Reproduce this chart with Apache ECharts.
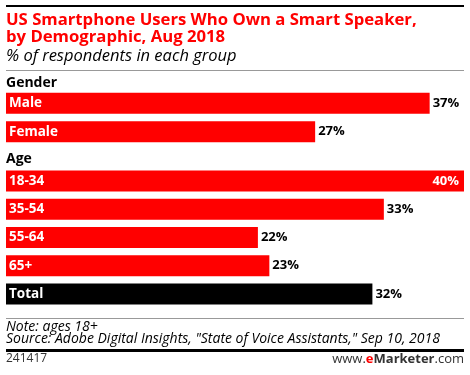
<!DOCTYPE html>
<html><head><meta charset="utf-8">
<script src="https://cdn.jsdelivr.net/npm/echarts@6/dist/echarts.min.js"></script>
<style>html,body{margin:0;padding:0;background:#fff}#c{width:470px;height:375px}</style>
</head><body><div id="c"></div>
<script>
const genderCats = ['Male', 'Female'];
const genderVals = [37, 27];
const ageCats = ['18-34', '35-54', '55-64', '65+', 'Total'];
const ageVals = [40, 33, 22, 23, 32];
const groupTitles = ['Gender', 'Age'];

const FONT = '"Open Sans", sans-serif';
const RED = '#ff0000';
const xMax = 40;

function itemFor(v, isTotal) {
  return {
    value: v,
    itemStyle: { color: isTotal ? '#000' : RED },
    label: v >= xMax ? { position: 'insideRight', color: '#fff', offset: [-2, 0] } : { position: 'right', color: '#000' }
  };
}

const chart = echarts.init(document.getElementById('c'), null, { renderer: 'canvas' });
const commonYAxis = {
  type: 'category', inverse: true, z: 10,
  axisLine: { show: false }, axisTick: { show: false }, splitLine: { show: false },
  axisLabel: { inside: true, margin: 3, color: '#fff', fontWeight: 'bold', fontSize: 13.5, fontFamily: FONT }
};
const commonXAxis = { type: 'value', min: 0, max: xMax, show: false };
const commonLabel = { show: true, fontWeight: 'bold', fontSize: 13, fontFamily: FONT, formatter: '{c}%', distance: 3 };

chart.setOption({
  animation: false,
  grid: [
    { left: 6, right: 6, top: 89, height: 57 },
    { left: 6, right: 6, top: 167, height: 141 }
  ],
  xAxis: [Object.assign({ gridIndex: 0 }, commonXAxis), Object.assign({ gridIndex: 1 }, commonXAxis)],
  yAxis: [
    Object.assign({ gridIndex: 0, data: genderCats }, commonYAxis),
    Object.assign({ gridIndex: 1, data: ageCats }, commonYAxis)
  ],
  series: [
    { type: 'bar', xAxisIndex: 0, yAxisIndex: 0, barWidth: 21, label: commonLabel,
      data: genderVals.map(v => itemFor(v, false)) },
    { type: 'bar', xAxisIndex: 1, yAxisIndex: 1, barWidth: 21, label: commonLabel,
      data: ageVals.map((v, i) => itemFor(v, ageCats[i] === 'Total')) }
  ],
  graphic: [
    { type: 'rect', shape: { x: 6, y: 5, width: 458, height: 2 }, style: { fill: '#000' } },
    { type: 'text', left: 6, top: 12, style: { text: 'US Smartphone Users Who Own a Smart Speaker,\nby Demographic, Aug 2018', fill: RED, font: 'bold 16.7px ' + FONT, lineHeight: 17 } },
    { type: 'text', left: 6, top: 48, style: { text: '% of respondents in each group', fill: '#000', font: 'italic 16.5px ' + FONT } },
    { type: 'rect', shape: { x: 6, y: 70, width: 458, height: 1 }, style: { fill: '#999' } },
    { type: 'text', left: 6, top: 76, style: { text: groupTitles[0], fill: '#000', font: 'bold 14px ' + FONT } },
    { type: 'text', left: 6, top: 152, style: { text: groupTitles[1], fill: '#000', font: 'bold 14px ' + FONT } },
    { type: 'rect', shape: { x: 6, y: 318, width: 458, height: 1 }, style: { fill: '#999' } },
    { type: 'text', left: 6, top: 320, style: { text: 'Note: ages 18+\nSource: Adobe Digital Insights, "State of Voice Assistants," Sep 10, 2018', fill: '#000', font: 'italic 14px ' + FONT, lineHeight: 12 } },
    { type: 'rect', shape: { x: 6, y: 349, width: 458, height: 3 }, style: { fill: '#000' } },
    { type: 'text', left: 6, top: 353, style: { text: '241417', fill: '#333', font: '12px ' + FONT } },
    { type: 'text', right: 6, top: 353, style: {
      text: '{a|www.}{b|e}{c|Marketer}{a|.com}',
      rich: {
        a: { fill: '#333', font: '13px ' + FONT },
        b: { fill: RED, font: 'bold 13px ' + FONT },
        c: { fill: '#333', font: 'bold 13px ' + FONT }
      } } }
  ]
});
</script></body></html>
